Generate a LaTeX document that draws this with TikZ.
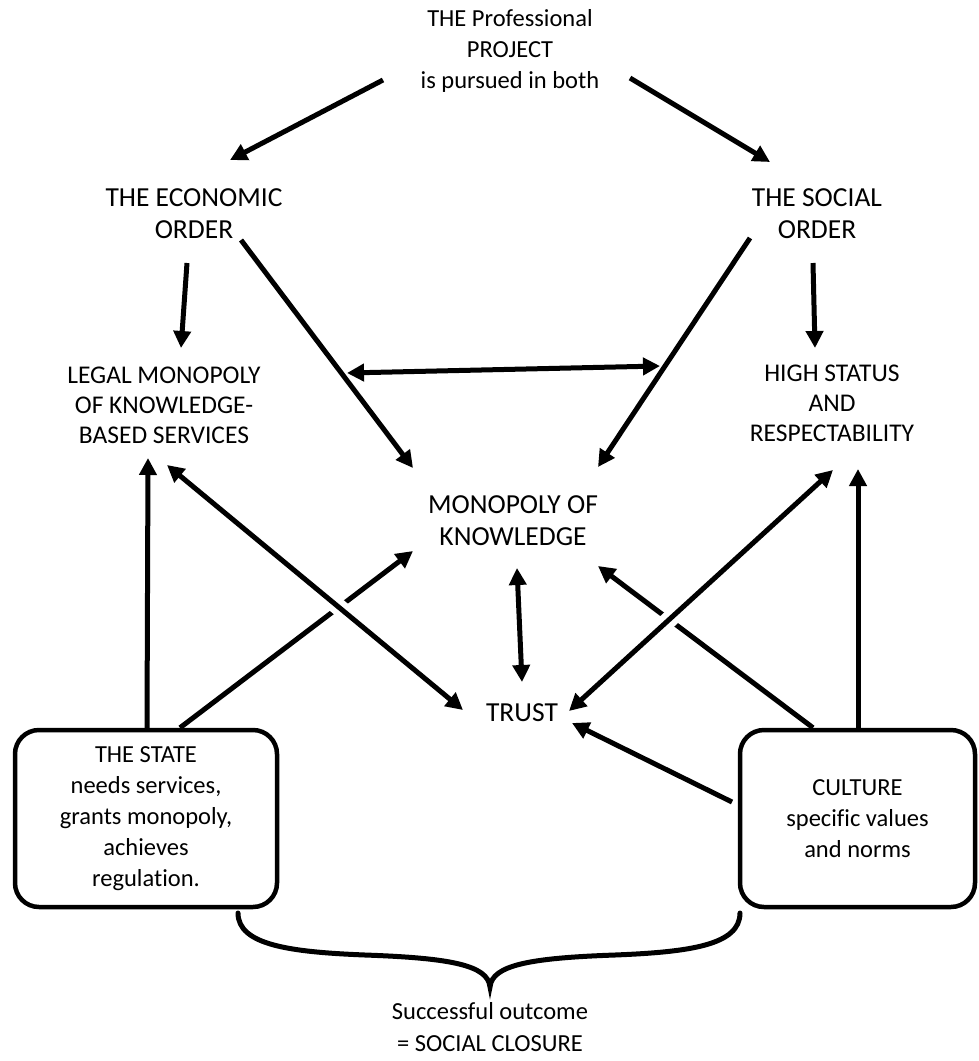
\documentclass[tikz,border=0pt]{standalone}
\usepackage{fontspec}
\setmainfont{Carlito}[Ligatures=NoCommon]
\usetikzlibrary{arrows.meta,calc}
\begin{document}
\begin{tikzpicture}[x=1pt,y=-1pt,
  lbl/.style={align=center, inner sep=0pt, text=black},
  big/.style={lbl, font=\fontsize{27.5}{32}\selectfont},
  mid/.style={lbl, font=\fontsize{25.5}{30}\selectfont},
  small/.style={lbl, font=\fontsize{24.5}{31}\selectfont},
  boxed/.style={small, draw, line width=4.5pt, rounded corners=24pt,
    minimum width=262pt, minimum height=177pt},
  tip/.tip={Triangle[length=17pt,width=17pt]},
  arr/.style={line width=5pt, -tip},
  darr/.style={line width=5pt, tip-tip},
  brace/.style={line width=5pt, line cap=round}
]
\useasboundingbox (0,0) rectangle (979,1061);

% text blocks
\node[small] (proj) at (510,51) {THE Professional\\PROJECT\\is pursued in both};
\node[big] (eco) at (194,214) {THE ECONOMIC\\ORDER};
\node[big] (soc) at (817,214) {THE SOCIAL\\ORDER};
\node[mid] (legal) at (164,405) {LEGAL MONOPOLY\\OF KNOWLEDGE-\\BASED SERVICES};
\node[mid] (high) at (832,403) {HIGH STATUS\\AND\\RESPECTABILITY};
\node[big] (mk) at (513,521) {MONOPOLY OF\\KNOWLEDGE};
\node[big] (trust) at (522,713) {TRUST};
\node[boxed] (state) at (146,818.5) {THE STATE\\needs services,\\grants monopoly,\\achieves\\regulation.};
\node[boxed, minimum width=235pt] (culture) at (857.5,818.5) {CULTURE\\specific values\\and norms};
\node[small, font=\fontsize{24.5}{32}\selectfont] (outcome) at (490,1027) {Successful outcome\\= SOCIAL CLOSURE};

% the project branches into both orders
\draw[arr] ($(proj)+(-127,29)$) -- ($(eco)+(36,-54)$);
\draw[arr] ($(proj)+(120,27)$) -- ($(soc)+(-47,-52)$);

% economic order
\draw[arr] ($(eco)+(-7,49)$) -- ($(legal)+(17,-57)$);
\draw[arr] ($(eco)+(47,26)$) -- ($(mk)+(-100,-53)$);

% social order
\draw[arr] ($(soc)+(-4,49)$) -- ($(high)+(-17,-55)$);
\draw[arr] ($(soc)+(-67,24)$) -- ($(mk)+(85,-54)$);

% legal monopoly <-> high status
\draw[darr] ($(legal)+(183,-32)$) -- ($(high)+(-172,-37)$);

% monopoly of knowledge <-> trust
\draw[darr] ($(mk)+(4,47)$) -- ($(trust)+(0,-31)$);

% the state
\draw[arr] ($(state.north)+(1,0)$) -- ($(legal)+(-16,53)$);
\draw[arr] ($(state.north)+(34,0)$) -- ($(mk)+(-100,30)$);

% culture
\draw[arr] ($(culture.north)+(0.5,0)$) -- ($(high)+(26,66)$);
\draw[arr] ($(culture.north)+(-44.5,0)$) -- ($(mk)+(85,45)$);
\draw[arr] ($(culture)+(-125.5,-16.5)$) -- ($(trust)+(50,10)$);

% crossing double arrows, with a gap cut into the lines beneath
\draw[darr, preaction={draw=white, line width=17pt, arrows=-,
    shorten <=190pt, shorten >=140pt}]
  ($(legal)+(3,60)$) -- ($(trust)+(-59,-3)$);
\draw[darr, preaction={draw=white, line width=17pt, arrows=-,
    shorten <=200pt, shorten >=103pt}]
  ($(high)+(1,67)$) -- ($(trust)+(47,-2)$);

% brace gathering state and culture
\draw[brace] (238,913) .. controls (238,945) and (290,952) .. (365,955)
  .. controls (450,958) and (488,965) .. (490,987)
  .. controls (492,965) and (530,958) .. (615,955)
  .. controls (690,952) and (740,945) .. (740,913);
\end{tikzpicture}
\end{document}
